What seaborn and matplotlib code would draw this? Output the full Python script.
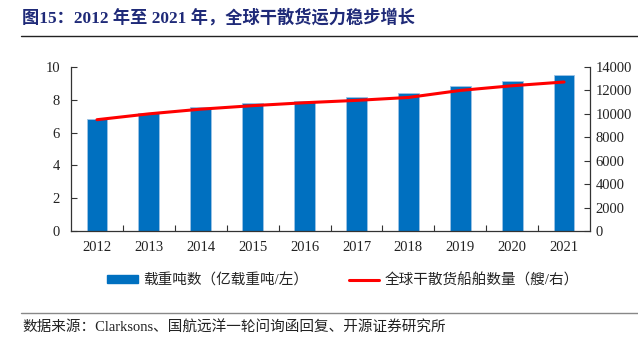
import numpy as np
import pandas as pd
import matplotlib
matplotlib.use("Agg")
import matplotlib.pyplot as plt
from matplotlib.patches import Patch
from matplotlib.lines import Line2D
from matplotlib.ticker import MultipleLocator, FixedLocator
import seaborn as sns

years = ["2012", "2013", "2014", "2015", "2016", "2017", "2018", "2019", "2020", "2021"]
dwt = [6.8, 7.2, 7.56, 7.79, 7.95, 8.17, 8.43, 8.84, 9.14, 9.49]
ships = [9500, 10000, 10400, 10700, 10950, 11150, 11400, 12000, 12400, 12720]

title = "图15：2012 年至 2021 年，全球干散货运力稳步增长"
bar_label = "载重吨数（亿载重吨/左）"
line_label = "全球干散货船舶数量（艘/右）"
source = "数据来源：Clarksons、国航远洋一轮问询函回复、开源证券研究所"

sns.set_theme(style="white")
plt.rcParams['font.family'] = ['Liberation Serif', 'Noto Sans CJK SC', 'DejaVu Sans']

df = pd.DataFrame({"year": years, "dwt": dwt, "ships": ships})

fig = plt.figure(figsize=(6.38, 3.5), dpi=100)
ax = fig.add_axes([71/638, 1-231/350, (590-71)/638, (231-67)/350])

bar_color = "#0070C0"
sns.barplot(data=df, x="year", y="dwt", color=bar_color, width=0.4,
            saturation=1, ax=ax, edgecolor="#9DC3E6", linewidth=0.6)
ax.set_ylim(0, 10)
ax.yaxis.set_major_locator(MultipleLocator(2))
ax.set_xlim(-0.5, len(years) - 0.5)
ax.set_xlabel("")
ax.set_ylabel("")

ax2 = ax.twinx()
sns.lineplot(x=np.arange(len(years)), y=df["ships"], color="#FF0000", linewidth=2.2, ax=ax2)
ax2.set_ylim(0, 14000)
ax2.yaxis.set_major_locator(MultipleLocator(2000))
ax2.set_ylabel("")

tick_color = "#222222"
spine_color = "#333333"
for a in (ax, ax2):
    for s in a.spines.values():
        s.set_visible(False)
ax.spines['left'].set_visible(True)
ax.spines['bottom'].set_visible(True)
ax2.spines['right'].set_visible(True)
for s in (ax.spines['left'], ax.spines['bottom'], ax2.spines['right']):
    s.set_color(spine_color)
    s.set_linewidth(0.9)

ax.tick_params(axis='y', direction='in', length=4, width=0.8, color=spine_color,
               labelsize=10.5, labelcolor=tick_color, pad=8, left=True)
ax2.tick_params(axis='y', direction='in', length=4, width=0.8, color=spine_color,
                labelsize=10.5, labelcolor=tick_color, pad=4, right=True)
ax.tick_params(axis='x', which='major', length=0, labelsize=10.5, labelcolor=tick_color, pad=7)
ax.xaxis.set_minor_locator(FixedLocator(np.arange(0.5, len(years) - 0.5, 1)))
ax.tick_params(axis='x', which='minor', direction='in', length=4, width=0.8,
               color=spine_color, bottom=True)

handles = [Patch(facecolor=bar_color, edgecolor=bar_color),
           Line2D([0], [0], color="#FF0000", linewidth=2.2)]
fig.legend(handles, [bar_label, line_label], loc='center', bbox_to_anchor=(343/638, 1-280/350),
           ncol=2, frameon=False, fontsize=10.5, handlelength=2.1, handleheight=0.45,
           columnspacing=2.8, handletextpad=0.35, labelcolor="#222222")

fig.text(22/638, 1-18/350, title, fontsize=12.4, fontweight='bold', color="#1F2A78",
         va='center', ha='left')
fig.add_artist(Line2D([21/638, 1.0], [1-36/350, 1-36/350], color="#222222", linewidth=1.0,
                      transform=fig.transFigure))
fig.add_artist(Line2D([21/638, 1.0], [1-313/350, 1-313/350], color="#888888", linewidth=1.0,
                      transform=fig.transFigure))
fig.text(22/638, 1-328/350, source, fontsize=10.5, color="#222222", va='center', ha='left')

fig.savefig("out.png", dpi=100)
